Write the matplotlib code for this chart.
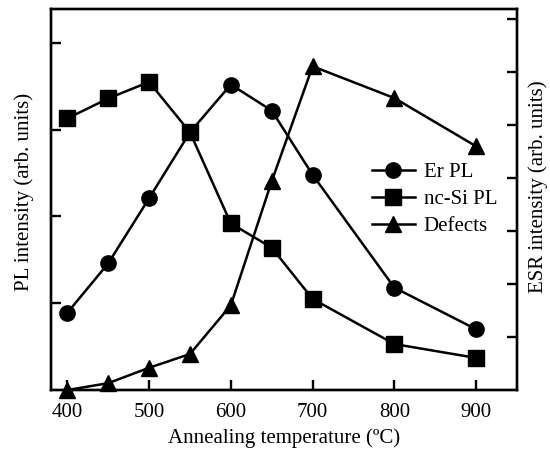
import matplotlib
matplotlib.use('Agg')
import matplotlib.pyplot as plt

plt.rcParams['font.family'] = ['Liberation Serif', 'DejaVu Serif']

# data
temps = [400, 450, 500, 550, 600, 650, 700, 800, 900]
er_pl = [0.89, 1.46, 2.21, 2.97, 3.52, 3.22, 2.48, 1.18, 0.70]
ncsi_pl = [3.13, 3.36, 3.55, 2.97, 1.92, 1.64, 1.05, 0.53, 0.37]
defects = [0.0, 0.13, 0.42, 0.68, 1.6, 3.94, 6.11, 5.51, 4.6]

xticks = [400, 500, 600, 700, 800, 900]

fig = plt.figure(figsize=(5.5, 4.53), dpi=100)
ax = fig.add_axes([0.0927, 0.139, 0.8473, 0.841])
ax2 = ax.twinx()

l1, = ax.plot(temps, er_pl, '-o', color='black', lw=1.8, ms=11, label='Er PL')
l2, = ax.plot(temps, ncsi_pl, '-s', color='black', lw=1.8, ms=11, label='nc-Si PL')
l3, = ax2.plot(temps, defects, '-^', color='black', lw=1.8, ms=11.5, label='Defects', clip_on=False)

ax.set_xlim(380, 950)
ax.set_ylim(0, 4.39)
ax2.set_ylim(0, 7.19)
ax.set_xticks(xticks)
ax.set_yticks([1, 2, 3, 4])
ax2.set_yticks([1, 2, 3, 4, 5, 6, 7])
ax.set_yticklabels([])
ax2.set_yticklabels([])

for a in (ax, ax2):
    for s in a.spines.values():
        s.set_linewidth(1.7)
ax.tick_params(axis='x', direction='in', length=7, width=1.7, labelsize=15, pad=9)
ax.tick_params(axis='y', direction='in', length=7, width=1.7)
ax2.tick_params(axis='y', direction='in', length=7, width=1.7)

ax.set_xlabel('Annealing temperature (ºC)', fontsize=15, labelpad=5)
ax.set_ylabel('PL intensity (arb. units)', fontsize=15)
ax2.set_ylabel('ESR intensity (arb. units)', fontsize=15)
ax.yaxis.set_label_coords(-0.037, 0.52)
ax2.yaxis.set_label_coords(1.025, 0.535)

ax2.legend(handles=[l1, l2, l3], loc='center left', bbox_to_anchor=(0.688, 0.5),
           frameon=False, fontsize=15, handlelength=2.1, handletextpad=0.4,
           labelspacing=0.35, borderpad=0, borderaxespad=0)

fig.savefig('out.png', dpi=100)
